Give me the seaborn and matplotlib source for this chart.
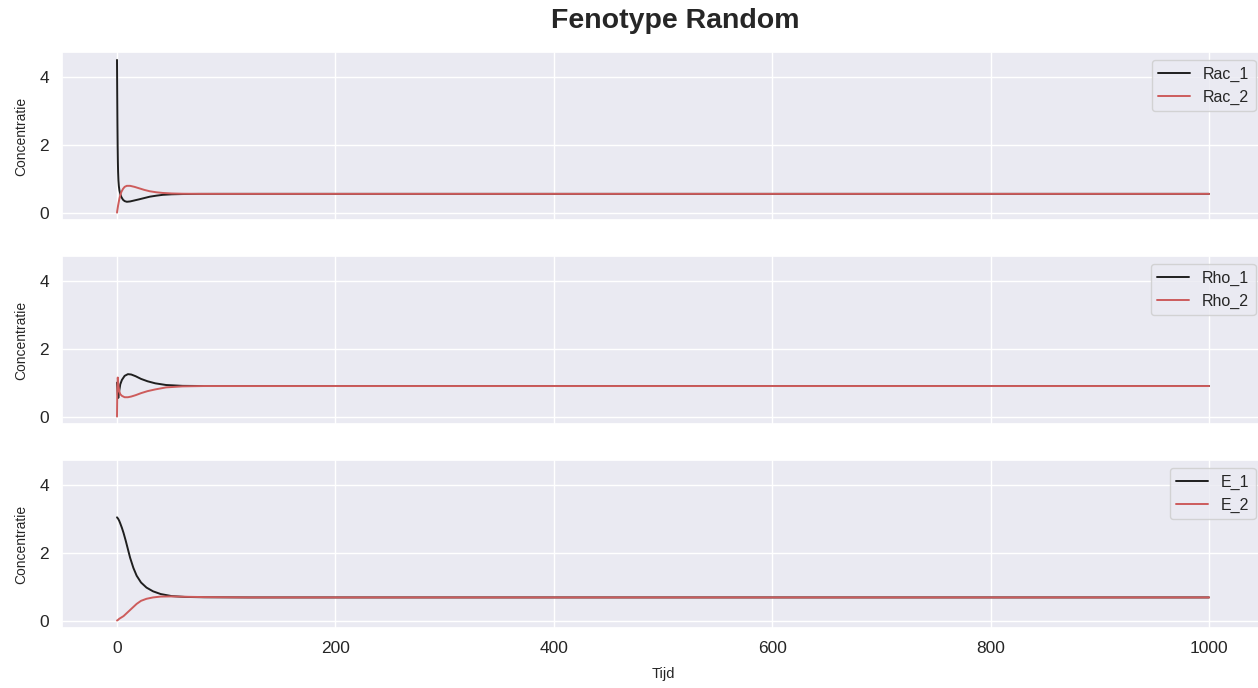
import matplotlib
matplotlib.use("Agg")
import matplotlib.pyplot as plt
import seaborn as sns
import pandas as pd

# Rac concentrations over time
rac_t = [0, 0.2, 0.4, 0.6, 0.8, 1, 1.3, 1.7, 2.2, 3, 4, 5.5, 7, 9, 12, 16, 20, 25, 30, 36, 42, 50, 60, 75, 100, 1000]
rac_1 = [4.5, 3.5, 2.6, 1.95, 1.5, 1.2, 0.95, 0.78, 0.66, 0.55, 0.46, 0.38, 0.34, 0.32, 0.33, 0.36, 0.39, 0.43, 0.47, 0.5, 0.525, 0.54, 0.548, 0.552, 0.553, 0.553]
rac_2 = [0.0, 0.05, 0.09, 0.13, 0.17, 0.21, 0.26, 0.33, 0.41, 0.51, 0.61, 0.7, 0.76, 0.79, 0.79, 0.76, 0.72, 0.67, 0.63, 0.6, 0.58, 0.565, 0.557, 0.554, 0.553, 0.553]

# Rho concentrations over time
rho_t = [0, 0.3, 0.7, 1.2, 2, 3, 4.5, 7, 10, 13, 17, 22, 28, 35, 45, 60, 80, 1000]
rho_1 = [1.0, 0.85, 0.65, 0.55, 0.75, 0.95, 1.08, 1.2, 1.25, 1.24, 1.19, 1.11, 1.04, 0.98, 0.93, 0.905, 0.9, 0.9]
rho_2 = [0.0, 0.8, 1.15, 0.95, 0.75, 0.66, 0.61, 0.57, 0.57, 0.59, 0.63, 0.69, 0.75, 0.8, 0.86, 0.89, 0.9, 0.9]

# E concentrations over time
e_t = [0, 1, 2, 3, 4.5, 6, 8, 10, 12, 15, 18, 22, 27, 33, 40, 50, 62, 80, 120, 1000]
e_1 = [3.04, 3.0, 2.94, 2.86, 2.73, 2.58, 2.35, 2.1, 1.85, 1.55, 1.32, 1.12, 0.97, 0.86, 0.78, 0.72, 0.695, 0.685, 0.68, 0.68]
e_2 = [0.0, 0.02, 0.05, 0.07, 0.1, 0.13, 0.19, 0.25, 0.31, 0.4, 0.49, 0.58, 0.64, 0.68, 0.705, 0.71, 0.70, 0.69, 0.68, 0.68]

panels = [
    (rac_t, rac_1, rac_2, "Rac_1", "Rac_2"),
    (rho_t, rho_1, rho_2, "Rho_1", "Rho_2"),
    (e_t, e_1, e_2, "E_1", "E_2"),
]

sns.set_theme(style="darkgrid")
plt.rcParams["font.family"] = ["Liberation Sans", "DejaVu Sans"]

fig, axes = plt.subplots(3, 1, figsize=(12.58, 6.88), dpi=100, sharex=True, sharey=True)
fig.subplots_adjust(left=0.0496, right=1.0045, top=0.924, bottom=0.087, hspace=0.214)

for ax, (t, s1, s2, n1, n2) in zip(axes, panels):
    df = pd.DataFrame({"Tijd": t, n1: s1, n2: s2})
    sns.lineplot(data=df, x="Tijd", y=n1, ax=ax, color="#1f1f1f", linewidth=1.4, label=n1)
    sns.lineplot(data=df, x="Tijd", y=n2, ax=ax, color="#cd5c5c", linewidth=1.4, label=n2)
    ax.set_ylabel("Concentratie", fontsize=10, labelpad=8)
    ax.set_xlabel("")
    ax.tick_params(axis="both", labelsize=12.5)
    ax.legend(loc="upper right", fontsize=11.5)

axes[-1].set_xlabel("Tijd", fontsize=10.5, labelpad=8)
axes[0].set_yticks([0, 2, 4])
axes[0].set_xticks([0, 200, 400, 600, 800, 1000])

fig.suptitle("Fenotype Random", fontsize=20.5, fontweight="bold", x=0.537, y=0.988)

fig.savefig("out.png", dpi=100)
